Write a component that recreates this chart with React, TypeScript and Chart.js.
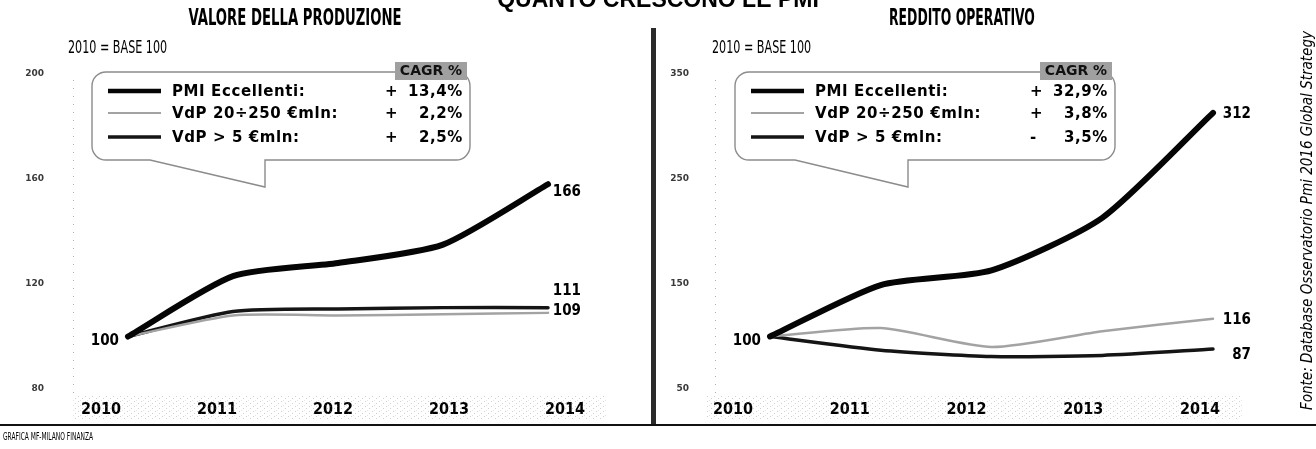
import React, { useEffect, useRef } from "react";
import { Chart, registerables } from "chart.js";
Chart.register(...registerables);

const years = [2010, 2011, 2012, 2013, 2014];
const seriesNames = ["PMI Eccellenti:", "VdP 20÷250 €mln:", "VdP > 5 €mln:"];

const prodPmi = [100, 123, 128, 135, 158];
const prodMid = [100, 108, 108, 108.5, 109];
const prodBig = [100, 109.5, 110.5, 111, 111];
const prodCagr = ["+ 13,4%", "+ 2,2%", "+ 2,5%"];
const prodEnd = ["166", "109", "111"];
const prodTicks = [80, 120, 160, 200];

const reddPmi = [100, 149, 163, 213, 313];
const reddMid = [100, 108, 90, 105, 117];
const reddBig = [100, 87, 81, 82, 88];
const reddCagr = ["+ 32,9%", "+ 3,8%", "- 3,5%"];
const reddEnd = ["312", "116", "87"];
const reddTicks = [50, 150, 250, 350];

const baseLabel = "100";
const cagrTitle = "CAGR %";

const H = 449;
const NARROW = '"Liberation Sans Narrow", "DejaVu Sans Condensed", "Liberation Sans", sans-serif';
const BOLDF = '"DejaVu Sans", Verdana, sans-serif';
const BOLDC = '"DejaVu Sans Condensed", "DejaVu Sans", sans-serif';

const lineStyles = [
  { color: "#050505", width: 6 },
  { color: "#a3a3a3", width: 2.5 },
  { color: "#151515", width: 3.5 },
];

type Box = { l: number; t: number; r: number; b: number; tailStart: number; tailX: number; tailY: number };

type PanelProps = {
  left: number;
  width: number;
  areaLeft: number;
  areaRight: number;
  firstX: number;
  lastX: number;
  labelFirst: number;
  labelLast: number;
  series: number[][];
  cagr: string[];
  endLabels: string[];
  endDx: number;
  endDy: number[];
  ticks: number[];
  tickPad: number;
  box: Box;
};

function speckle(ctx: CanvasRenderingContext2D) {
  const c = document.createElement("canvas");
  c.width = 7;
  c.height = 5;
  const g = c.getContext("2d") as CanvasRenderingContext2D;
  g.fillStyle = "rgba(120,120,120,0.35)";
  g.fillRect(1, 1, 1, 1);
  g.fillRect(5, 3, 1, 1);
  g.fillStyle = "rgba(120,120,120,0.2)";
  g.fillRect(3, 0, 1, 1);
  return ctx.createPattern(c, "repeat");
}

function Panel(props: PanelProps) {
  const ref = useRef<HTMLCanvasElement>(null);
  useEffect(() => {
    const { left, width, areaLeft, areaRight, firstX, lastX, labelFirst, labelLast, series, cagr, endLabels, endDx, endDy, ticks, tickPad, box } = props;
    const top = 74;
    const bottom = 389;
    const step = (lastX - firstX) / (years.length - 1);
    const xmin = years[0] - (firstX - areaLeft) / step;
    const xmax = years[years.length - 1] + (areaRight - lastX) / step;
    const toVal = (px: number) => xmin + ((px - areaLeft) / (areaRight - areaLeft)) * (xmax - xmin);
    const labelStep = (labelLast - labelFirst) / (years.length - 1);

    const overlay = {
      id: "overlay",
      beforeDatasetsDraw(chart: any) {
        const ctx = chart.ctx as CanvasRenderingContext2D;
        const a = chart.chartArea;
        ctx.save();
        const pat = speckle(ctx);
        if (pat) {
          ctx.fillStyle = pat;
          ctx.fillRect(labelFirst - left - 28, 396, labelLast - labelFirst + 70, 24);
        }
        ctx.strokeStyle = "#b0b0b0";
        ctx.lineWidth = 1;
        ctx.setLineDash([1, 7]);
        ctx.beginPath();
        ctx.moveTo(Math.round(a.left) + 0.5, a.top + 6);
        ctx.lineTo(Math.round(a.left) + 0.5, a.bottom + 6);
        ctx.stroke();
        ctx.restore();
      },
      afterDatasetsDraw(chart: any) {
        const ctx = chart.ctx as CanvasRenderingContext2D;
        const l = box.l - left, r = box.r - left, t = box.t, b = box.b;
        const tx = box.tailX - left, ts = box.tailStart - left;
        const rr = 14;
        ctx.save();
        ctx.beginPath();
        ctx.moveTo(l + rr, t);
        ctx.lineTo(r - rr, t);
        ctx.arcTo(r, t, r, t + rr, rr);
        ctx.lineTo(r, b - rr);
        ctx.arcTo(r, b, r - rr, b, rr);
        ctx.lineTo(tx, b);
        ctx.lineTo(tx, box.tailY);
        ctx.lineTo(ts, b);
        ctx.lineTo(l + rr, b);
        ctx.arcTo(l, b, l, b - rr, rr);
        ctx.lineTo(l, t + rr);
        ctx.arcTo(l, t, l + rr, t, rr);
        ctx.closePath();
        ctx.fillStyle = "#ffffff";
        ctx.fill();
        ctx.strokeStyle = "#8c8c8c";
        ctx.lineWidth = 1.4;
        ctx.stroke();

        ctx.fillStyle = "#a0a0a0";
        ctx.fillRect(r - 75, t - 10, 72, 18);
        ctx.fillStyle = "#111";
        ctx.font = `bold 14px ${BOLDF}`;
        ctx.textAlign = "center";
        ctx.textBaseline = "middle";
        ctx.fillText(cagrTitle, r - 39, t - 1);

        const rowsY = [t + 19, t + 41, t + 65];
        (ctx as any).letterSpacing = "0.6px";
        ctx.font = `bold 15px ${BOLDF}`;
        rowsY.forEach((y, i) => {
          ctx.strokeStyle = lineStyles[i].color;
          ctx.lineWidth = i === 0 ? 4.5 : i === 1 ? 2 : 3.5;
          ctx.beginPath();
          ctx.moveTo(l + 16, y);
          ctx.lineTo(l + 69, y);
          ctx.stroke();
          ctx.fillStyle = "#000";
          ctx.textAlign = "left";
          ctx.fillText(seriesNames[i], l + 80, y + 1);
          const [sign, num] = cagr[i].split(" ");
          ctx.fillText(sign, r - 85, y + 1);
          ctx.textAlign = "right";
          ctx.fillText(num, r - 7, y + 1);
        });

        (ctx as any).letterSpacing = "0px";
        ctx.textAlign = "right";
        ctx.font = `bold 15px ${BOLDC}`;
        series.forEach((_, i) => {
          const meta = chart.getDatasetMeta(i);
          const pt = meta.data[meta.data.length - 1];
          ctx.fillText(endLabels[i], pt.x + endDx, pt.y + endDy[i]);
        });
        const p0 = chart.getDatasetMeta(0).data[0];
        ctx.textAlign = "right";
        ctx.fillText(baseLabel, p0.x - 9, p0.y + 5);
        ctx.restore();
      },
    };

    const chart = new Chart(ref.current as HTMLCanvasElement, {
      type: "line",
      data: {
        datasets: series.map((s, i) => ({
          data: years.map((y, k) => ({ x: y, y: s[k] })),
          borderColor: lineStyles[i].color,
          borderWidth: lineStyles[i].width,
          pointRadius: 0,
          tension: 0.22,
          borderCapStyle: "round",
          borderJoinStyle: "round",
          fill: false,
        })) as any,
      },
      options: {
        responsive: false,
        animation: false,
        layout: {
          padding: {
            left: 0,
            right: left + width - areaRight,
            top: top,
            bottom: H - bottom - 40,
          },
        },
        plugins: { legend: { display: false }, tooltip: { enabled: false } },
        scales: {
          x: {
            type: "linear",
            min: xmin,
            max: xmax,
            afterBuildTicks: (s: any) => {
              s.ticks = years.map((_, i) => ({ value: toVal(labelFirst + i * labelStep) }));
            },
            afterFit: (s: any) => {
              s.height = 40;
            },
            ticks: {
              callback: (_v: any, i: number) => String(years[i]),
              font: { family: BOLDC, weight: "bold", size: 16 },
              color: "#000",
              padding: 3,
              maxRotation: 0,
              autoSkip: false,
            },
            grid: { display: false },
            border: { display: false },
          },
          y: {
            min: ticks[0],
            max: ticks[ticks.length - 1],
            afterBuildTicks: (s: any) => {
              s.ticks = ticks.map((v) => ({ value: v }));
            },
            afterFit: (s: any) => {
              s.width = areaLeft - left;
            },
            ticks: {
              font: { family: BOLDF, weight: "bold", size: 9 },
              color: "#3a3a3a",
              padding: tickPad,
            },
            grid: { display: false },
            border: { display: false },
          },
        },
      } as any,
      plugins: [overlay],
    });
    return () => chart.destroy();
  }, []);
  return (
    <canvas
      ref={ref}
      width={props.width}
      height={H}
      style={{ position: "absolute", left: props.left, top: 0 }}
    />
  );
}

const abs = (o: React.CSSProperties): React.CSSProperties => ({ position: "absolute", whiteSpace: "nowrap", ...o });

export default function App() {
  return (
    <div
      style={{
        position: "fixed",
        left: 0,
        top: 0,
        width: 1316,
        height: H,
        background: "#fff",
        overflow: "hidden",
        fontFamily: NARROW,
        color: "#000",
      }}
    >
      <Panel
        left={0}
        width={650}
        areaLeft={73}
        areaRight={630}
        firstX={128}
        lastX={548}
        labelFirst={101}
        labelLast={565}
        series={[prodPmi, prodMid, prodBig]}
        cagr={prodCagr}
        endLabels={prodEnd}
        endDx={33}
        endDy={[8, -2, -17]}
        ticks={prodTicks}
        tickPad={21}
        box={{ l: 92, t: 72, r: 470, b: 160, tailStart: 150, tailX: 265, tailY: 187 }}
      />
      <Panel
        left={657}
        width={643}
        areaLeft={715}
        areaRight={1285}
        firstX={770}
        lastX={1213}
        labelFirst={733}
        labelLast={1200}
        series={[reddPmi, reddMid, reddBig]}
        cagr={reddCagr}
        endLabels={reddEnd}
        endDx={38}
        endDy={[1, 1, 6]}
        ticks={reddTicks}
        tickPad={18}
        box={{ l: 735, t: 72, r: 1115, b: 160, tailStart: 795, tailX: 908, tailY: 187 }}
      />
      <div style={abs({ left: 0, width: 1316, top: -12.5, textAlign: "center", fontFamily: '"Liberation Sans", Arial, sans-serif', fontWeight: "bold", fontSize: 23, lineHeight: "23px" })}>
        QUANTO CRESCONO LE PMI
      </div>
      <div style={abs({ left: 95, width: 400, top: 6, textAlign: "center", fontWeight: "bold", fontSize: 23, lineHeight: "23px", transform: "scaleX(0.64)", transformOrigin: "50% 50%" })}>
        VALORE DELLA PRODUZIONE
      </div>
      <div style={abs({ left: 762, width: 400, top: 6, textAlign: "center", fontWeight: "bold", fontSize: 23, lineHeight: "23px", transform: "scaleX(0.6)", transformOrigin: "50% 50%" })}>
        REDDITO OPERATIVO
      </div>
      <div style={abs({ left: 68, top: 38.5, fontSize: 17, lineHeight: "17px", transform: "scaleX(0.73)", transformOrigin: "0 50%" })}>2010 = BASE 100</div>
      <div style={abs({ left: 712, top: 38.5, fontSize: 17, lineHeight: "17px", transform: "scaleX(0.73)", transformOrigin: "0 50%" })}>2010 = BASE 100</div>
      <div style={abs({ left: 651, top: 28, width: 5, height: 397, background: "#2b2b2b" })} />
      <div style={abs({ left: 0, top: 424, width: 1316, height: 2, background: "#111" })} />
      <div style={abs({ left: 3, top: 432, fontSize: 10, lineHeight: "10px", transform: "scaleX(0.66)", transformOrigin: "0 50%" })}>GRAFICA MF-MILANO FINANZA</div>
      <div
        style={abs({
          left: 1299,
          top: 21,
          height: 400,
          width: 16,
          writingMode: "vertical-rl",
          transform: "rotate(180deg)",
          textAlign: "center",
          fontStyle: "italic",
          fontSize: 15,
          lineHeight: "16px",
        })}
      >
        Fonte: Database Osservatorio Pmi 2016 Global Strategy
      </div>
    </div>
  );
}
